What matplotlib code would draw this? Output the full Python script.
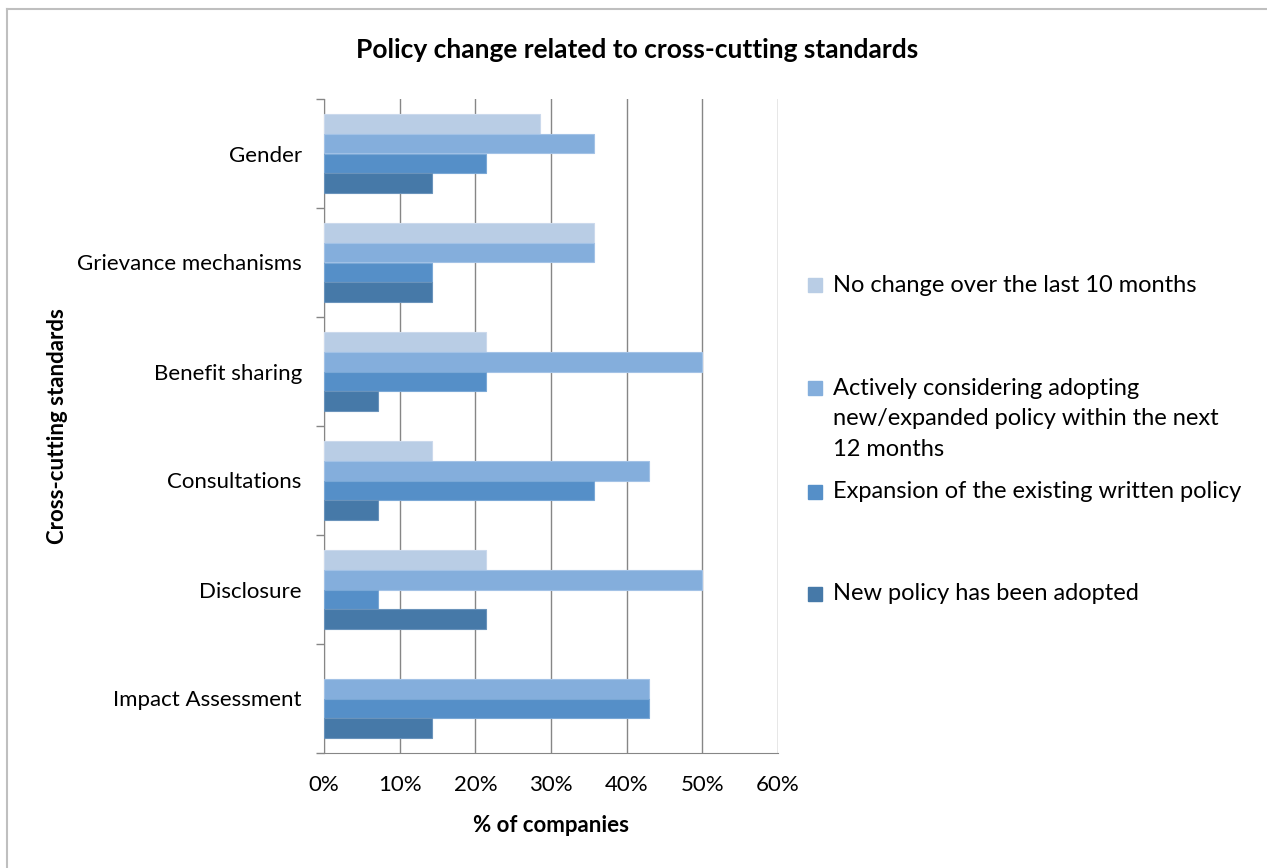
import matplotlib
matplotlib.use("Agg")
import matplotlib.pyplot as plt
from matplotlib.lines import Line2D
import numpy as np

plt.rcParams['font.family'] = ['Lato', 'DejaVu Sans']

categories = ["Gender", "Grievance mechanisms", "Benefit sharing",
              "Consultations", "Disclosure", "Impact Assessment"]
series_names = ["No change over the last 10 months",
                "Actively considering adopting\nnew/expanded policy within the next\n12 months",
                "Expansion of the existing written policy",
                "New policy has been adopted"]
no_change = [28.6, 35.7, 21.4, 14.3, 21.4, 0.0]
actively_considering = [35.7, 35.7, 50.0, 42.9, 50.0, 42.9]
expansion = [21.4, 14.3, 21.4, 35.7, 7.1, 42.9]
new_policy = [14.3, 14.3, 7.1, 7.1, 21.4, 14.3]
xticks = [0, 10, 20, 30, 40, 50, 60]
xtick_labels = ["0%", "10%", "20%", "30%", "40%", "50%", "60%"]

colors = ["#B9CDE5", "#84AEDC", "#558FC8", "#4679A8"]
edge_colors = ["#CBD9EC", "#A3C2E6", "#7AA8D6", "#6A93BB"]

fig = plt.figure(figsize=(12.67, 8.68), dpi=100)
W, H = 1267, 868
ax = fig.add_axes([324 / W, 1 - 753 / H, 454 / W, 654 / H])

all_series = [no_change, actively_considering, expansion, new_policy]
n = len(categories)
bar_h = 0.73 / 4
y_centers = np.arange(n)
for i, vals in enumerate(all_series):
    offs = (i - 1.5) * bar_h
    ecs = [edge_colors[i] if v > 0 else 'none' for v in vals]
    ax.barh(y_centers + offs, vals, height=bar_h, color=colors[i],
            edgecolor=ecs, linewidth=0.8, label=series_names[i], zorder=3)

ax.set_ylim(n - 0.5, -0.5)
ax.set_xlim(0, 60)
ax.set_xticks(xticks)
ax.set_xticklabels(xtick_labels, fontsize=16)
ax.set_yticks(y_centers)
ax.set_yticklabels(categories, fontsize=16)
ax.tick_params(axis='y', length=0, pad=16)
ax.tick_params(axis='x', length=0, pad=16)
ax.set_yticks(np.arange(-0.5, n, 1.0), minor=True)
ax.tick_params(axis='y', which='minor', length=6, color='#868686', width=1)
ax.set_xticks(xticks, minor=True)
ax.tick_params(axis='x', which='minor', length=6, color='#868686', width=1, direction='out')

ax.grid(axis='x', color='#868686', linewidth=1, zorder=0)
for s in ['top', 'right']:
    ax.spines[s].set_visible(False)
ax.spines['left'].set_color('#868686')
ax.spines['bottom'].set_color('#868686')

ax.set_xlabel("% of companies", fontsize=16, fontweight='bold')
ax.xaxis.set_label_coords(0.5, -(815 - 753) / 654)
ax.set_ylabel("Cross-cutting standards", fontsize=16, fontweight='bold')
ax.yaxis.set_label_coords(-(324 - 68) / 454, 0.5)

fig.text(637 / W, 1 - 50 / H, "Policy change related to cross-cutting standards",
         fontsize=19, fontweight='bold', ha='center', va='center')

# legend
leg_x = 808 / W
leg_y = [285, 388, 492, 594]
for i, (name, yy) in enumerate(zip(series_names, leg_y)):
    fig.patches.append(plt.Rectangle((leg_x, 1 - (yy + 7) / H), 14 / W, 14 / H,
                                     transform=fig.transFigure, color=colors[i], figure=fig))
    if '\n' in name:
        fig.text(leg_x + 25 / W, 1 - (yy - 10) / H, name, fontsize=17, ha='left', va='top',
                 linespacing=1.55)
    else:
        fig.text(leg_x + 25 / W, 1 - yy / H, name, fontsize=17, ha='left', va='center')

# frame lines (left and top)
fig.add_artist(Line2D([7 / W, 7 / W], [0, 1 - 9 / H], transform=fig.transFigure,
                      color='#BFBFBF', linewidth=1.5))
fig.add_artist(Line2D([7 / W, 1], [1 - 9 / H, 1 - 9 / H], transform=fig.transFigure,
                      color='#BFBFBF', linewidth=1.5))

fig.savefig("out.png", dpi=100)
